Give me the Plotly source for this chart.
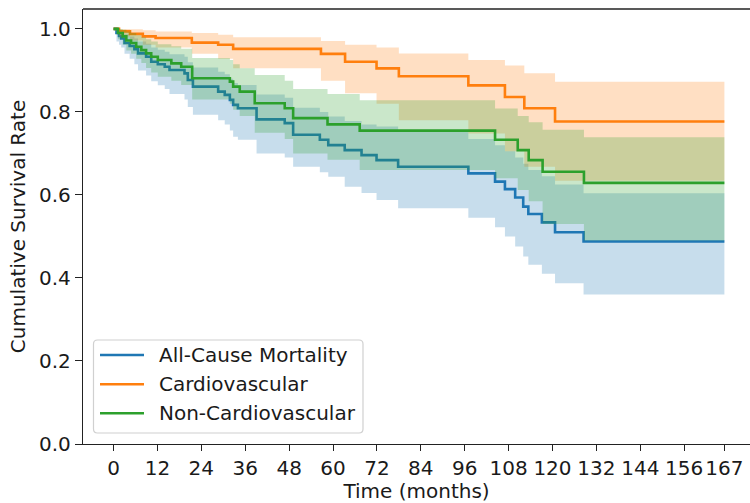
import plotly.graph_objects as go

# Kaplan-Meier step estimates (months, survival) with 95% confidence bounds
all_t = [0, 0.8, 1.5, 2.1, 3.0, 4.4, 5.7, 6.7, 8.9, 10.3, 12.1, 14.0, 15.3, 19.4, 20.3,
         21.7, 28.6, 30.4, 31.8, 32.7, 34.0, 39.1, 46.8, 49.1, 56.4, 58.7, 63.2, 67.8,
         71.9, 77.8, 97.0, 104.3, 107.0, 109.8, 112.0, 113.4, 117.1, 120.7, 128.5, 167]
all_s = [1.0, 0.99, 0.983, 0.977, 0.966, 0.959, 0.951, 0.941, 0.933, 0.921, 0.915, 0.909,
         0.901, 0.893, 0.877, 0.861, 0.849, 0.841, 0.829, 0.817, 0.809, 0.782, 0.773, 0.745,
         0.733, 0.72, 0.708, 0.696, 0.684, 0.668, 0.652, 0.632, 0.614, 0.594, 0.572, 0.554,
         0.534, 0.51, 0.488, 0.488]
all_lo = [1.0, 0.97, 0.962, 0.955, 0.94, 0.928, 0.915, 0.9, 0.888, 0.874, 0.864, 0.855,
          0.843, 0.83, 0.812, 0.793, 0.78, 0.77, 0.755, 0.74, 0.733, 0.70, 0.69, 0.668,
          0.655, 0.644, 0.62, 0.605, 0.588, 0.568, 0.545, 0.522, 0.50, 0.476, 0.452, 0.432,
          0.41, 0.387, 0.36, 0.36]
all_hi = [1.0, 0.998, 0.996, 0.993, 0.987, 0.982, 0.977, 0.97, 0.964, 0.955, 0.95, 0.945,
          0.939, 0.933, 0.92, 0.907, 0.897, 0.891, 0.88, 0.87, 0.865, 0.842, 0.834, 0.81,
          0.8, 0.789, 0.778, 0.77, 0.765, 0.752, 0.735, 0.72, 0.705, 0.69, 0.675, 0.66,
          0.645, 0.625, 0.604, 0.604]

cv_t = [0, 1.5, 4.5, 8.0, 11.5, 21.4, 28.6, 32.7, 56.7, 63.3, 71.9, 78.0, 97.0, 107.0,
        112.3, 120.7, 167]
cv_s = [1.0, 0.994, 0.988, 0.982, 0.978, 0.967, 0.962, 0.952, 0.94, 0.921, 0.905, 0.886,
        0.864, 0.836, 0.809, 0.777, 0.777]
cv_lo = [1.0, 0.982, 0.972, 0.962, 0.955, 0.94, 0.928, 0.905, 0.875, 0.845, 0.82, 0.78,
         0.748, 0.705, 0.668, 0.634, 0.634]
cv_hi = [1.0, 1.0, 0.999, 0.997, 0.994, 0.99, 0.986, 0.98, 0.971, 0.962, 0.955, 0.941,
         0.925, 0.912, 0.893, 0.873, 0.873]

ncv_t = [0, 1.2, 2.5, 3.5, 4.8, 6.2, 7.6, 8.9, 10.3, 12.1, 15.8, 18.5, 21.5, 31.8, 32.7,
         34.5, 38.6, 46.8, 49.1, 58.5, 67.3, 104.3, 110.5, 113.5, 117.3, 128.6, 167]
ncv_s = [1.0, 0.99, 0.982, 0.972, 0.966, 0.957, 0.949, 0.941, 0.933, 0.925, 0.917, 0.909,
         0.881, 0.873, 0.861, 0.849, 0.821, 0.809, 0.785, 0.77, 0.755, 0.733, 0.708, 0.684,
         0.656, 0.629, 0.629]
ncv_lo = [1.0, 0.975, 0.962, 0.948, 0.94, 0.928, 0.918, 0.906, 0.895, 0.885, 0.875, 0.865,
          0.83, 0.82, 0.805, 0.79, 0.75, 0.735, 0.70, 0.685, 0.66, 0.64, 0.612, 0.585,
          0.53, 0.49, 0.49]
ncv_hi = [1.0, 1.0, 0.998, 0.994, 0.99, 0.985, 0.98, 0.975, 0.97, 0.963, 0.958, 0.952,
          0.93, 0.925, 0.915, 0.905, 0.889, 0.875, 0.855, 0.843, 0.828, 0.808, 0.79, 0.775,
          0.757, 0.739, 0.739]

series_names = ["All-Cause Mortality", "Cardiovascular", "Non-Cardiovascular"]
x_ticks = [0, 12, 24, 36, 48, 60, 72, 84, 96, 108, 120, 132, 144, 156, 167]
y_ticks = [0.0, 0.2, 0.4, 0.6, 0.8, 1.0]

line_colors = ["#1f77b4", "#ff7f0e", "#2ca02c"]
band_colors = ["rgba(31,119,180,0.25)", "rgba(255,127,14,0.25)", "rgba(44,160,44,0.25)"]

FONT = "DejaVu Sans"
fig = go.Figure()

groups = [
    (all_t, all_s, all_lo, all_hi),
    (cv_t, cv_s, cv_lo, cv_hi),
    (ncv_t, ncv_s, ncv_lo, ncv_hi),
]
for (t, s, lo, hi), name, lc, bc in zip(groups, series_names, line_colors, band_colors):
    fig.add_trace(go.Scatter(x=t, y=lo, mode="lines", line=dict(width=0, shape="hv"),
                             hoverinfo="skip", showlegend=False))
    fig.add_trace(go.Scatter(x=t, y=hi, mode="lines", line=dict(width=0, shape="hv"),
                             fill="tonexty", fillcolor=bc, hoverinfo="skip",
                             showlegend=False))
    fig.add_trace(go.Scatter(x=t, y=s, mode="lines", name=name, showlegend=False,
                             line=dict(color=lc, width=2.6, shape="hv")))

# Plot-area geometry in pixels, used to place the legend box
L, T, W, H = 83, 9, 667, 435


def px(xp):
    return (xp - L) / W


def py(yp):
    return (T + H - yp) / H


# Legend: rounded frame, line samples and labels
bx0, bx1, by0, by1 = px(93.5), px(363), py(433), py(340)
rx, ry = 4 / W, 4 / H
frame = (f"M{bx0 + rx},{by1} L{bx1 - rx},{by1} Q{bx1},{by1} {bx1},{by1 - ry} "
         f"L{bx1},{by0 + ry} Q{bx1},{by0} {bx1 - rx},{by0} L{bx0 + rx},{by0} "
         f"Q{bx0},{by0} {bx0},{by0 + ry} L{bx0},{by1 - ry} Q{bx0},{by1} {bx0 + rx},{by1} Z")
shapes = [dict(type="path", xref="paper", yref="paper", path=frame,
               fillcolor="rgba(255,255,255,0.8)", line=dict(color="#d0d0d0", width=1.2))]
annotations = []
row_y = [355, 384.3, 413.3]
for name, lc, ry_px in zip(series_names, line_colors, row_y):
    shapes.append(dict(type="line", xref="paper", yref="paper",
                       x0=px(100), x1=px(144), y0=py(ry_px), y1=py(ry_px),
                       line=dict(color=lc, width=2.6)))
    annotations.append(dict(xref="paper", yref="paper", x=px(157), y=py(ry_px),
                            xanchor="left", yanchor="middle", text=name, showarrow=False,
                            font=dict(family=FONT, size=20, color="#1a1a1a")))

axis_color = "#222222"
# top spine (the right spine falls outside the canvas)
shapes.append(dict(type="line", xref="paper", yref="paper", x0=0, x1=1, y0=1, y1=1,
                   line=dict(color=axis_color, width=1.3)))

fig.update_layout(
    width=750, height=503,
    margin=dict(l=L, r=0, t=T, b=59, autoexpand=False),
    paper_bgcolor="white", plot_bgcolor="white",
    font=dict(family=FONT, size=20, color="#1a1a1a"),
    showlegend=False,
    xaxis=dict(
        range=[-8.35, 174.0], tickmode="array", tickvals=x_ticks,
        ticktext=[str(v) for v in x_ticks],
        showgrid=False, zeroline=False, showline=True, linecolor=axis_color, linewidth=1.3,
        ticks="outside", ticklen=6, tickwidth=1.3, tickcolor=axis_color,
        title=dict(text="Time (months)", standoff=2, font=dict(size=20)),
        automargin=False,
    ),
    yaxis=dict(
        range=[0, 1.048], tickmode="array", tickvals=y_ticks,
        ticktext=[f"{v:.1f}" for v in y_ticks],
        showgrid=False, zeroline=False, showline=True, linecolor=axis_color, linewidth=1.3,
        ticks="outside", ticklen=7, tickwidth=1.3, tickcolor=axis_color,
        title=dict(text="Cumulative Survival Rate", standoff=8, font=dict(size=20)),
        automargin=False,
    ),
    shapes=shapes,
    annotations=annotations,
)

fig.write_html("out.html")
